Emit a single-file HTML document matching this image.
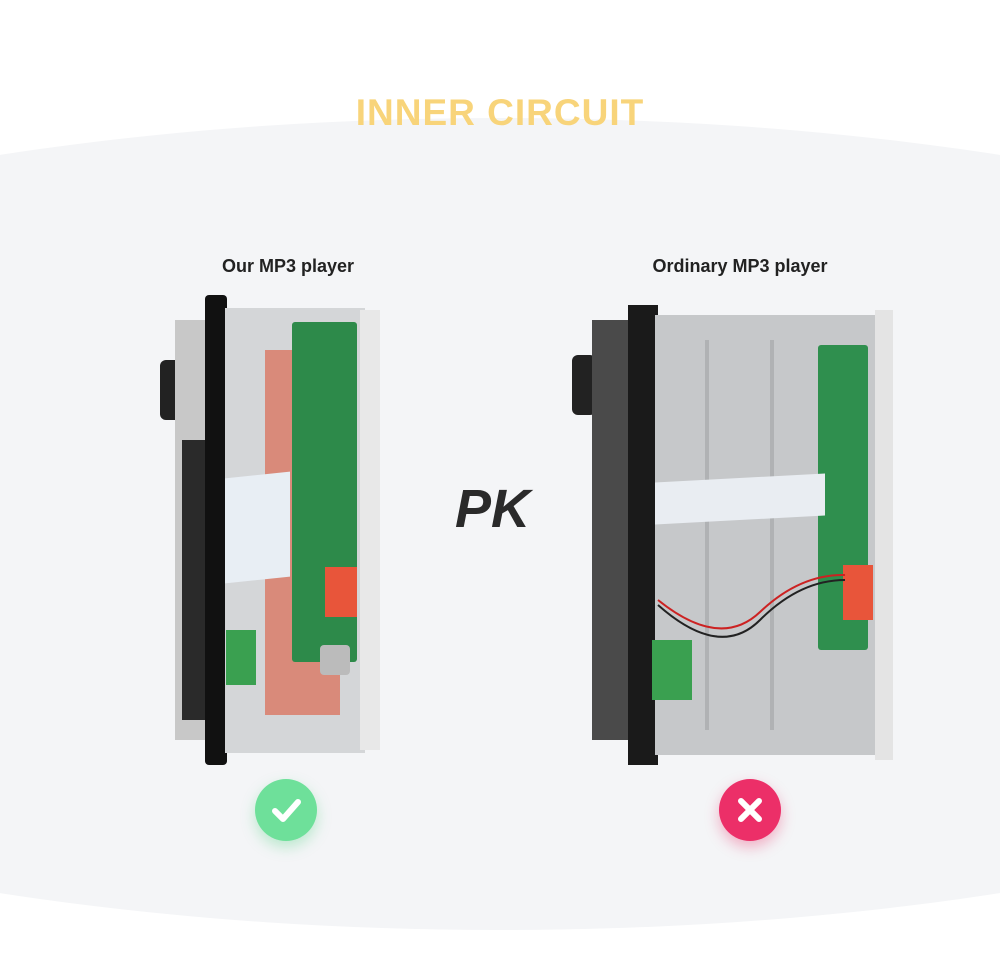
<!DOCTYPE html>
<html><head><meta charset="utf-8"><style>
body{margin:0;width:1000px;height:958px;background:#fff;position:relative;overflow:hidden;font-family:"Liberation Sans",sans-serif}
.a{position:absolute}
.bg{left:-700px;top:118px;width:2400px;height:812px;border-radius:50%;background:#f4f5f7}
.t{left:0;width:1000px;top:92px;text-align:center;font-size:37px;font-weight:bold;color:#f8d47a;letter-spacing:1px}
.l{font-size:18px;font-weight:bold;color:#222;text-align:center}
</style></head><body>
<div class="a bg"></div>
<div class="a t">INNER CIRCUIT</div>
<div class="a l" style="left:188px;top:256px;width:200px">Our MP3 player</div>
<div class="a l" style="left:620px;top:256px;width:240px">Ordinary MP3 player</div>

<div class="a" style="left:160px;top:360px;width:30px;height:60px;background:#222;border-radius:6px"></div>
<div class="a" style="left:175px;top:320px;width:35px;height:420px;background:#c8c8c8"></div>
<div class="a" style="left:182px;top:440px;width:28px;height:280px;background:#2a2a2a"></div>
<div class="a" style="left:205px;top:295px;width:22px;height:470px;background:#111;border-radius:4px"></div>
<div class="a" style="left:225px;top:308px;width:140px;height:445px;background:#d4d6d8"></div>
<div class="a" style="left:360px;top:310px;width:20px;height:440px;background:#e8e8e8"></div>
<div class="a" style="left:265px;top:350px;width:75px;height:365px;background:#d98a7a"></div>
<div class="a" style="left:292px;top:322px;width:65px;height:340px;background:#2d8a4a;border-radius:3px"></div>
<div class="a" style="left:225px;top:475px;width:65px;height:105px;background:#e8eef4;transform:skewY(-6deg)"></div>
<div class="a" style="left:325px;top:567px;width:32px;height:50px;background:#e8553a"></div>
<div class="a" style="left:226px;top:630px;width:30px;height:55px;background:#3aa050"></div>
<div class="a" style="left:320px;top:645px;width:30px;height:30px;background:#bbb;border-radius:4px"></div>

<div class="a" style="left:572px;top:355px;width:24px;height:60px;background:#222;border-radius:6px"></div>
<div class="a" style="left:592px;top:320px;width:40px;height:420px;background:#4a4a4a"></div>
<div class="a" style="left:628px;top:305px;width:30px;height:460px;background:#1a1a1a"></div>
<div class="a" style="left:655px;top:315px;width:225px;height:440px;background:#c6c8ca"></div>
<div class="a" style="left:705px;top:340px;width:4px;height:390px;background:#b0b2b4"></div>
<div class="a" style="left:770px;top:340px;width:4px;height:390px;background:#b0b2b4"></div>
<div class="a" style="left:875px;top:310px;width:18px;height:450px;background:#e4e4e4"></div>
<div class="a" style="left:818px;top:345px;width:50px;height:305px;background:#2f8f4e;border-radius:3px"></div>
<div class="a" style="left:655px;top:478px;width:170px;height:42px;background:#e9edf2;transform:skewY(-3deg)"></div>
<div class="a" style="left:843px;top:565px;width:30px;height:55px;background:#e8553a"></div>
<div class="a" style="left:652px;top:640px;width:40px;height:60px;background:#3aa050"></div>
<svg class="a" style="left:0;top:0" width="1000" height="958"><path d="M658 605 Q720 660 760 620 T845 580" stroke="#222" stroke-width="2" fill="none"/><path d="M658 600 Q720 650 760 612 T845 575" stroke="#c22" stroke-width="2" fill="none"/></svg>

<div class="a" style="left:455px;top:478px;font-size:54px;font-weight:bold;font-style:italic;color:#2a2a2a">PK</div>

<div class="a" style="left:255px;top:779px;width:62px;height:62px;border-radius:50%;background:#6ee09a;box-shadow:0 6px 14px rgba(80,210,130,.35)"></div>
<svg class="a" style="left:255px;top:779px" width="62" height="62"><path d="M20 32 L28 40 L43 23" stroke="#fff" stroke-width="6" fill="none" stroke-linecap="round" stroke-linejoin="round"/></svg>
<div class="a" style="left:719px;top:779px;width:62px;height:62px;border-radius:50%;background:#ec2f68;box-shadow:0 6px 14px rgba(236,47,104,.35)"></div>
<svg class="a" style="left:719px;top:779px" width="62" height="62"><path d="M22 22 L40 40 M40 22 L22 40" stroke="#fff" stroke-width="6" stroke-linecap="round"/></svg>
</body></html>
